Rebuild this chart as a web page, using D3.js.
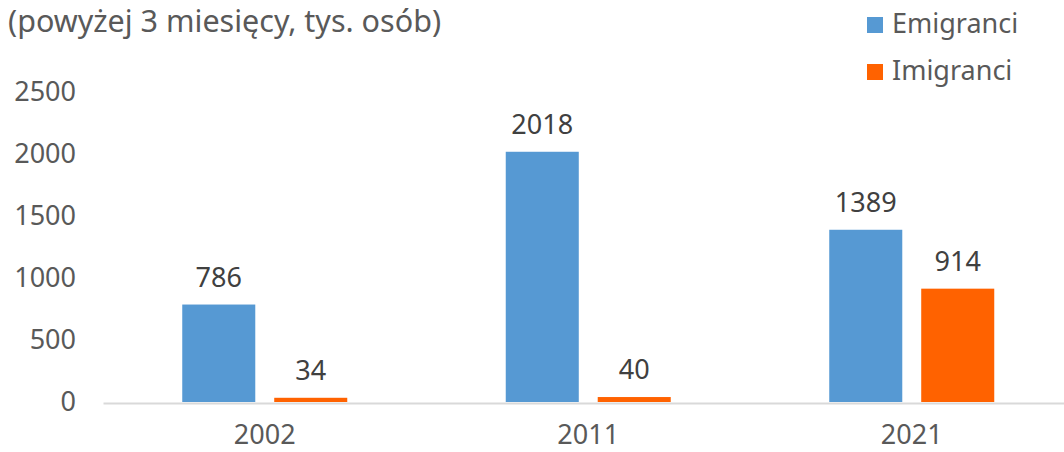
<!DOCTYPE html>
<html>
<head>
<meta charset="utf-8">
<script src="https://cdn.jsdelivr.net/npm/d3@7"></script>
<style>
    body { margin: 0; background: #fff; }
    text { font-family: "Noto Sans", sans-serif; }
</style>
</head>
<body>
<div id="chart"></div>
<script>
let years = ["2002", "2011", "2021"];
let seriesNames = ["Emigranci", "Imigranci"];
let emigranci = [786, 2018, 1389];
let imigranci = [34, 40, 914];
let yTicks = [0, 500, 1000, 1500, 2000, 2500];

(function () {
    let width = 1064, height = 452;
    let color = {
        "Emigranci": "#5699d3",
        "Imigranci": "#ff6200"
    };
    let svg = d3.select("#chart")
        .append("svg")
        .attr("width", width)
        .attr("height", height);

    let rows = years.map((y, i) => ({ year: y, values: [
        { name: "Emigranci", value: emigranci[i] },
        { name: "Imigranci", value: imigranci[i] }
    ] }));

    let x0 = d3.scaleBand()
        .domain(years)
        .range([103, 1073.5]);
    let bw = x0.bandwidth();
    let x1 = d3.scaleBand()
        .domain(seriesNames)
        .range([bw / 2 - 82.5, bw / 2 + 82.5])
        .paddingInner(0.206);
    let y = d3.scaleLinear()
        .domain([0, 2500])
        .range([402, 92]);

    // subtitle
    svg.append("text")
        .attr("x", 8)
        .attr("y", 32)
        .attr("font-size", "30.5px")
        .attr("fill", "#595959")
        .text("(powyżej 3 miesięcy, tys. osób)");

    // y axis labels
    svg.append("g")
        .selectAll("text")
        .data(yTicks)
        .enter()
        .append("text")
        .attr("x", 76)
        .attr("y", d => y(d))
        .attr("dy", "0.35em")
        .attr("text-anchor", "end")
        .attr("font-size", "27px")
        .attr("fill", "#595959")
        .text(d => d);

    let groups = svg.append("g")
        .selectAll("g")
        .data(rows)
        .enter()
        .append("g")
        .attr("transform", d => `translate(${x0(d.year)},0)`);

    groups.selectAll("rect")
        .data(d => d.values)
        .enter()
        .append("rect")
        .attr("x", d => x1(d.name))
        .attr("y", d => y(d.value))
        .attr("width", x1.bandwidth())
        .attr("height", d => y(0) - y(d.value))
        .attr("fill", d => color[d.name]);

    groups.selectAll("text")
        .data(d => d.values)
        .enter()
        .append("text")
        .attr("x", d => x1(d.name) + x1.bandwidth() / 2)
        .attr("y", d => y(d.value) - 18)
        .attr("text-anchor", "middle")
        .attr("font-size", "27px")
        .attr("fill", "#404040")
        .text(d => d.value);

    // x axis
    let xAxis = svg.append("g")
        .attr("transform", "translate(0,403)")
        .call(d3.axisBottom(x0).tickSize(0).tickPadding(22));
    xAxis.select(".domain")
        .attr("stroke", "#d9d9d9")
        .attr("stroke-width", 2);
    xAxis.selectAll("text")
        .attr("font-family", "Noto Sans, sans-serif")
        .attr("font-size", "27px")
        .attr("fill", "#595959");

    // legend
    let lg = svg.append("g")
        .selectAll("g")
        .data(seriesNames)
        .enter()
        .append("g")
        .attr("transform", (_, i) => `translate(867,${17 + i * 47})`);
    lg.append("rect")
        .attr("width", 16)
        .attr("height", 16)
        .attr("fill", d => color[d]);
    lg.append("text")
        .attr("x", 25)
        .attr("y", 16)
        .attr("font-size", "27px")
        .attr("fill", "#595959")
        .text(d => d);
})();
</script>
</body>
</html>
